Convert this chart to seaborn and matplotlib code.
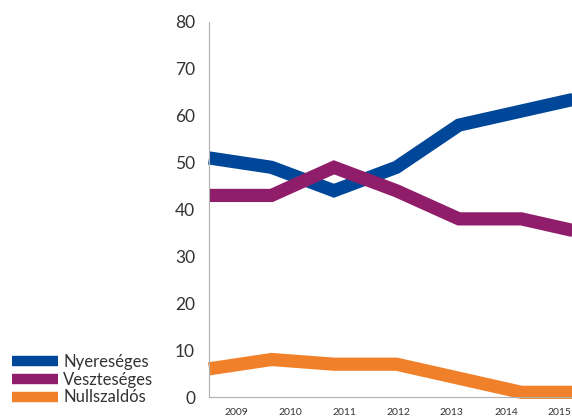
import matplotlib
matplotlib.use('Agg')
import matplotlib.pyplot as plt
import seaborn as sns
import pandas as pd
from matplotlib.lines import Line2D

# adatok
evek = ['2009', '2010', '2011', '2012', '2013', '2014', '2015']
nyereseges = [51, 49, 44, 49, 58, 61, 64]
veszteseges = [43, 43, 49, 44, 38, 38, 35]
nullszaldos = [6, 8, 7, 7, 4, 1, 1]

kategoriak = ['Nyereséges', 'Veszteséges', 'Nullszaldós']
szinek = ['#00479a', '#901d6a', '#f0812a']

df = pd.DataFrame({
    'pos': list(range(len(evek))) * 3,
    'ertek': nyereseges + veszteseges + nullszaldos,
    'kategoria': [k for k in kategoriak for _ in evek],
})

sns.set_style('white')
plt.rcParams['font.family'] = ['Lato', 'DejaVu Sans']

fig = plt.figure(figsize=(5.72, 4.17), dpi=100)
ax = fig.add_axes([209 / 572, 20 / 417, 1 - 209 / 572, 375 / 417])

sns.lineplot(data=df, x='pos', y='ertek', hue='kategoria', hue_order=kategoriak,
             palette=szinek, linewidth=9.5, legend=False, ax=ax)
for ln in ax.lines:
    ln.set_solid_joinstyle('miter')
    ln.set_solid_capstyle('butt')
    ln.set_clip_on(False)

ax.set_xlim(0, 5.81)
ax.set_ylim(0, 80)

# kategoria savok a tengelyen (szelesseg ~0.864 adategyseg)
sav = 0.864
ax.set_xticks([sav * k for k in range(1, 7)])
ax.set_xticklabels([])
ax.set_xticks([sav * (k + 0.5) for k in range(len(evek))], minor=True)
ax.set_xticklabels(evek, minor=True, fontsize=7.5, color='#333333')
ax.tick_params(axis='x', which='major', direction='in', length=7, color='#b0b0b0', width=0.8)
ax.tick_params(axis='x', which='minor', length=0, pad=8)

ax.set_yticks(range(0, 81, 10))
ax.tick_params(axis='y', direction='out', length=6, color='#b0b0b0', width=0.8,
               labelsize=12.5, labelcolor='#333333', pad=4)

for s in ['top', 'right']:
    ax.spines[s].set_visible(False)
for s in ['left', 'bottom']:
    ax.spines[s].set_color('#b0b0b0')
    ax.spines[s].set_linewidth(0.8)

ax.set_xlabel('')
ax.set_ylabel('')

handles = [Line2D([0], [0], color=c, linewidth=7.5, solid_capstyle='butt') for c in szinek]
fig.legend(handles, kategoriak, loc='lower left', bbox_to_anchor=(0.0, 0.0),
           frameon=False, fontsize=12, handlelength=2.8, handletextpad=0.3,
           labelspacing=0.1, borderaxespad=0.3, labelcolor='#333333')

fig.savefig('out.png', dpi=100)
